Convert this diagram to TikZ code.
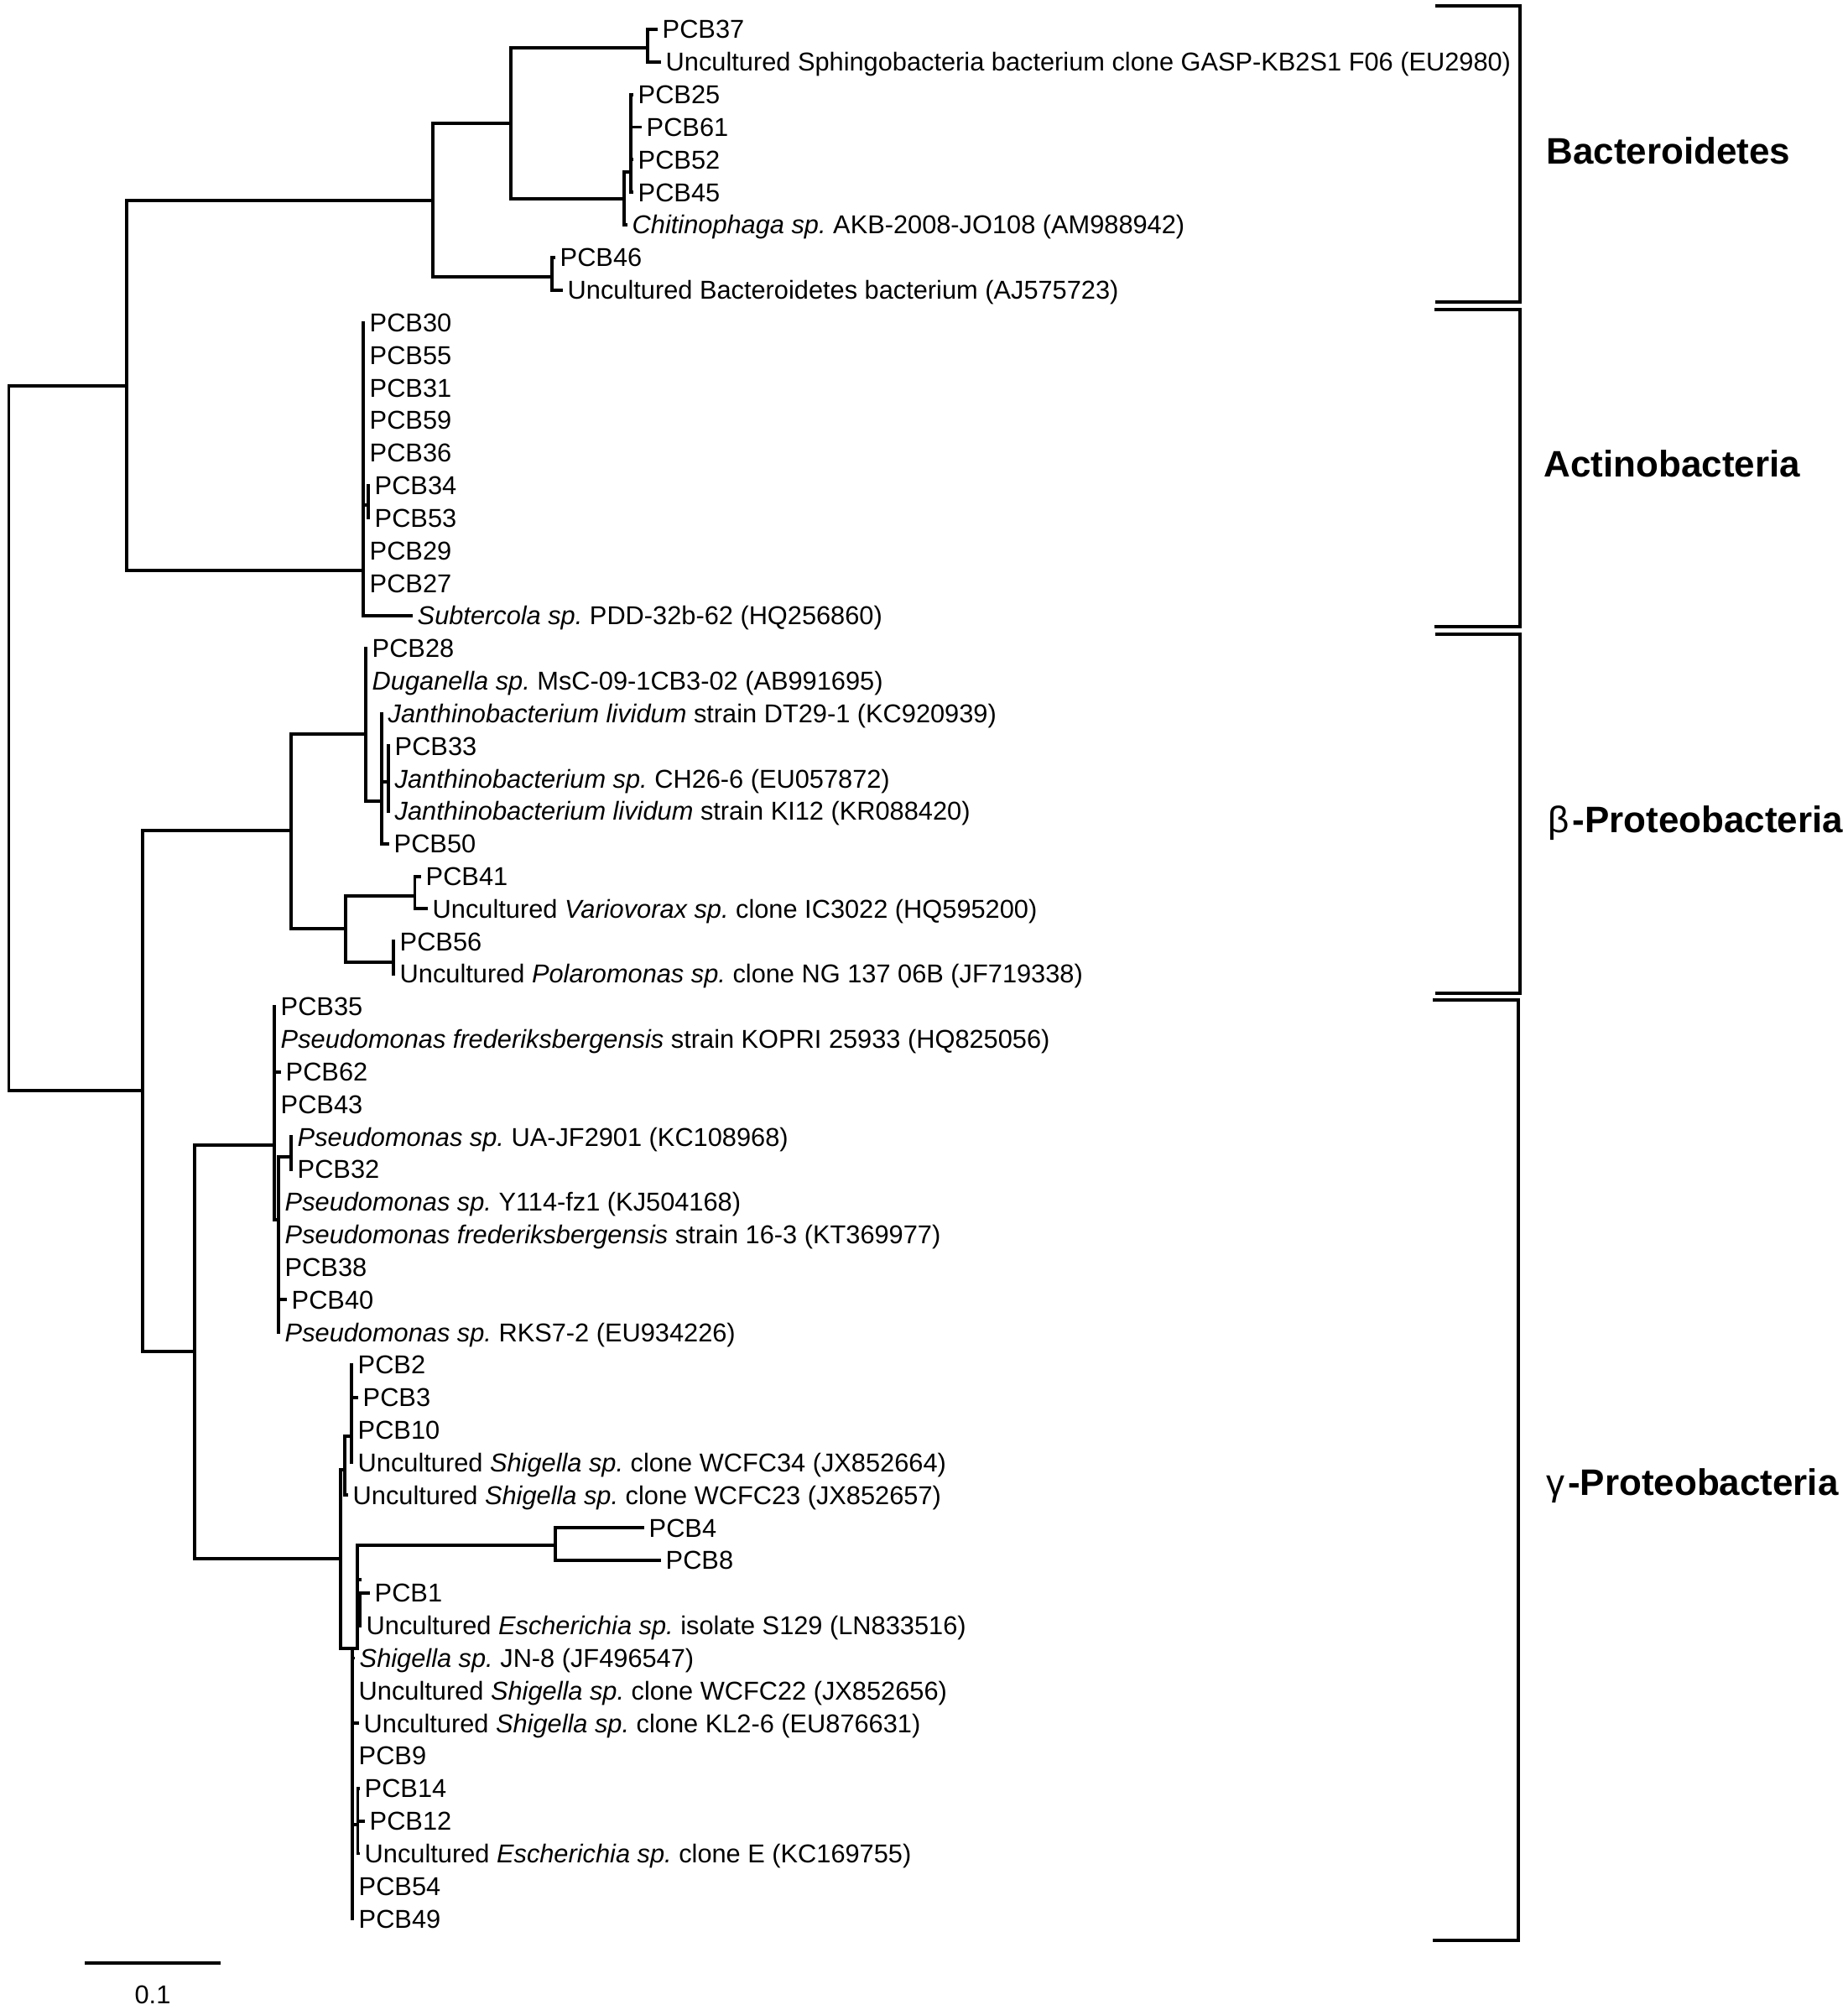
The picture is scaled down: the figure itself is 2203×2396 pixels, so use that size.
\documentclass[tikz,border=0pt]{standalone}
\usepackage{fontspec}
\setmainfont{Liberation Sans}
\usetikzlibrary{calc}
\frenchspacing
\newcommand{\leaffont}{\fontsize{8.75}{10.5}\selectfont}
\newcommand{\cladefont}{\fontsize{12.5}{15}\selectfont\bfseries}

\begin{document}
\begin{tikzpicture}[x=0.01cm, y=-0.01cm,
  branch/.style={line width=1.1pt, line cap=rect},
  bracket/.style={line width=1pt},
  leaf/.style={anchor=base west, inner xsep=2pt, inner ysep=0pt, yshift=-3.1pt, font=\leaffont},
  clade/.style={anchor=base west, inner sep=0pt, yshift=-4.5pt, font=\cladefont}
]
  \useasboundingbox (0,0) rectangle (2203,2396);

  % leaves: row / tip x / label
  \foreach \i/\tx/\lab in {
    1/782/{PCB37},
    2/786/{Uncultured Sphingobacteria bacterium clone GASP-KB2S1 F06 (EU2980)},
    3/753/{PCB25}, 4/763/{PCB61}, 5/753/{PCB52}, 6/753/{PCB45},
    7/746/{\textit{Chitinophaga sp.} AKB-2008-JO108 (AM988942)},
    8/660/{PCB46},
    9/669/{Uncultured Bacteroidetes bacterium (AJ575723)},
    10/433/{PCB30}, 11/433/{PCB55}, 12/433/{PCB31}, 13/433/{PCB59}, 14/433/{PCB36},
    15/439/{PCB34}, 16/439/{PCB53}, 17/433/{PCB29}, 18/433/{PCB27},
    19/490/{\textit{Subtercola sp.} PDD-32b-62 (HQ256860)},
    20/436/{PCB28},
    21/436/{\textit{Duganella sp.} MsC-09-1CB3-02 (AB991695)},
    22/455/{\textit{Janthinobacterium lividum} strain DT29-1 (KC920939)},
    23/463/{PCB33},
    24/463/{\textit{Janthinobacterium sp.} CH26-6 (EU057872)},
    25/463/{\textit{Janthinobacterium lividum} strain KI12 (KR088420)},
    26/462/{PCB50},
    27/500/{PCB41},
    28/508/{Uncultured \textit{Variovorax sp.} clone IC3022 (HQ595200)},
    29/469/{PCB56},
    30/469/{Uncultured \textit{Polaromonas sp.} clone NG 137 06B (JF719338)},
    31/327/{PCB35},
    32/327/{\textit{Pseudomonas frederiksbergensis} strain KOPRI 25933 (HQ825056)},
    33/333/{PCB62}, 34/327/{PCB43},
    35/347/{\textit{Pseudomonas sp.} UA-JF2901 (KC108968)},
    36/347/{PCB32},
    37/332/{\textit{Pseudomonas sp.} Y114-fz1 (KJ504168)},
    38/332/{\textit{Pseudomonas frederiksbergensis} strain 16-3 (KT369977)},
    39/332/{PCB38}, 40/340/{PCB40},
    41/332/{\textit{Pseudomonas sp.} RKS7-2 (EU934226)},
    42/419/{PCB2}, 43/425/{PCB3}, 44/419/{PCB10},
    45/419/{Uncultured \textit{Shigella sp.} clone WCFC34 (JX852664)},
    46/413/{Uncultured \textit{Shigella sp.} clone WCFC23 (JX852657)},
    47/766/{PCB4}, 48/786/{PCB8}, 49/439/{PCB1},
    50/429/{Uncultured \textit{Escherichia sp.} isolate S129 (LN833516)},
    51/421/{\textit{Shigella sp.} JN-8 (JF496547)},
    52/420/{Uncultured \textit{Shigella sp.} clone WCFC22 (JX852656)},
    53/426/{Uncultured \textit{Shigella sp.} clone KL2-6 (EU876631)},
    54/420/{PCB9}, 55/427/{PCB14}, 56/433/{PCB12},
    57/427/{Uncultured \textit{Escherichia sp.} clone E (KC169755)},
    58/420/{PCB54}, 59/420/{PCB49}} {
    \pgfmathsetmacro\yy{35+(\i-1)*38.83}
    \coordinate (t\i) at (\tx,\yy);
    \node[leaf] (l\i) at (t\i) {\lab};
  }

  % internal nodes (x of the split, y where the parent joins)
  \coordinate (nRoot) at (10.5,880);
  \coordinate (nA) at (151,460);
  \coordinate (nB) at (516,239);
  \coordinate (nB1) at (609,147);
  \coordinate (n37) at (772,57);
  \coordinate (nG) at (744,237);
  \coordinate (nS) at (752,205);
  \coordinate (n46) at (658,330);
  \coordinate (nAc) at (433,680);
  \coordinate (nAc2) at (439,602);
  \coordinate (nP) at (170,1300);
  \coordinate (nBe) at (347,990);
  \coordinate (nBu) at (436,875);
  \coordinate (nJ) at (455,955);
  \coordinate (nK) at (463,932);
  \coordinate (nBl) at (412,1107);
  \coordinate (n41) at (494.5,1068);
  \coordinate (n56) at (469,1147);
  \coordinate (nGa) at (232,1611);
  \coordinate (nPs) at (327,1365);
  \coordinate (nQ) at (332,1454);
  \coordinate (nR) at (347,1379);
  \coordinate (nEs) at (406,1858);
  \coordinate (nU0) at (411,1752);
  \coordinate (nU1) at (419,1712);
  \coordinate (nN) at (420,1965);
  \coordinate (nM) at (426,1965);
  \coordinate (nW) at (429,1883);
  \coordinate (n48) at (662,1842);
  \coordinate (nT) at (426.5,2175);

  % branches
  \draw[branch] (nRoot |- nA) -- (nRoot |- nP) foreach \c in {nA,nP} {(nRoot |- \c) -- (\c)};
  \draw[branch] (nA |- nB) -- (nA |- nAc) foreach \c in {nB,nAc} {(nA |- \c) -- (\c)};
  \draw[branch] (nB |- nB1) -- (nB |- n46) foreach \c in {nB1,n46} {(nB |- \c) -- (\c)};
  \draw[branch] (nB1 |- n37) -- (nB1 |- nG) foreach \c in {n37,nG} {(nB1 |- \c) -- (\c)};
  \draw[branch] (n37 |- t1) -- (n37 |- t2) foreach \c in {t1,t2} {(n37 |- \c) -- (\c)};
  \draw[branch] (nG |- nS) -- (nG |- t7) foreach \c in {nS,t7} {(nG |- \c) -- (\c)};
  \draw[branch] (nS |- t3) -- (nS |- t6) foreach \c in {t3,t4,t5,t6} {(nS |- \c) -- (\c)};
  \draw[branch] (n46 |- t8) -- (n46 |- t9) foreach \c in {t8,t9} {(n46 |- \c) -- (\c)};
  \draw[branch] (nAc |- t10) -- (nAc |- t19) foreach \c in {t10,t11,t12,t13,t14,nAc2,t17,t18,t19} {(nAc |- \c) -- (\c)};
  \draw[branch] (nAc2 |- t15) -- (nAc2 |- t16) foreach \c in {t15,t16} {(nAc2 |- \c) -- (\c)};
  \draw[branch] (nP |- nBe) -- (nP |- nGa) foreach \c in {nBe,nGa} {(nP |- \c) -- (\c)};
  \draw[branch] (nBe |- nBu) -- (nBe |- nBl) foreach \c in {nBu,nBl} {(nBe |- \c) -- (\c)};
  \draw[branch] (nBu |- t20) -- (nBu |- nJ) foreach \c in {t20,t21,nJ} {(nBu |- \c) -- (\c)};
  \draw[branch] (nJ |- t22) -- (nJ |- t26) foreach \c in {t22,nK,t26} {(nJ |- \c) -- (\c)};
  \draw[branch] (nK |- t23) -- (nK |- t25) foreach \c in {t23,t24,t25} {(nK |- \c) -- (\c)};
  \draw[branch] (nBl |- n41) -- (nBl |- n56) foreach \c in {n41,n56} {(nBl |- \c) -- (\c)};
  \draw[branch] (n41 |- t27) -- (n41 |- t28) foreach \c in {t27,t28} {(n41 |- \c) -- (\c)};
  \draw[branch] (n56 |- t29) -- (n56 |- t30) foreach \c in {t29,t30} {(n56 |- \c) -- (\c)};
  \draw[branch] (nGa |- nPs) -- (nGa |- nEs) foreach \c in {nPs,nEs} {(nGa |- \c) -- (\c)};
  \draw[branch] (nPs |- t31) -- (nPs |- nQ) foreach \c in {t31,t32,t33,t34,nQ} {(nPs |- \c) -- (\c)};
  \draw[branch] (nQ |- nR) -- (nQ |- t41) foreach \c in {nR,t37,t38,t39,t40,t41} {(nQ |- \c) -- (\c)};
  \draw[branch] (nR |- t35) -- (nR |- t36) foreach \c in {t35,t36} {(nR |- \c) -- (\c)};
  \draw[branch] (nEs |- nU0) -- (nEs |- nN) foreach \c in {nU0,nN} {(nEs |- \c) -- (\c)};
  \draw[branch] (nU0 |- nU1) -- (nU0 |- t46) foreach \c in {nU1,t46} {(nU0 |- \c) -- (\c)};
  \draw[branch] (nU1 |- t42) -- (nU1 |- t45) foreach \c in {t42,t43,t44,t45} {(nU1 |- \c) -- (\c)};
  \draw[branch] (nN |- nM) -- (nN |- t59) foreach \c in {nM,t51,t52,t53,t54,nT,t58,t59} {(nN |- \c) -- (\c)};
  \draw[branch] (nM |- n48) -- (nM) foreach \c in {n48,nW} {(nM |- \c) -- (\c)};
  \draw[branch] (nW |- t49) -- (nW |- t50) foreach \c in {t49,t50} {(nW |- \c) -- (\c)};
  \draw[branch] (n48 |- t47) -- (n48 |- t48) foreach \c in {t47,t48} {(n48 |- \c) -- (\c)};
  \draw[branch] (nT |- t55) -- (nT |- t57) foreach \c in {t55,t56,t57} {(nT |- \c) -- (\c)};

  % groups
  \draw[bracket] (1711,7) -- (1812,7) -- (1812,360) -- (1711,360);
  \draw[bracket] (1710,369) -- (1812,369) -- (1812,747) -- (1710,747);
  \draw[bracket] (1711,756) -- (1812,756) -- (1812,1184) -- (1711,1184);
  \draw[bracket] (1708,1192) -- (1810,1192) -- (1810,2313) -- (1708,2313);
  \node[clade] (bact) at (1843,180) {Bacteroidetes};
  \node[clade] (actino) at (1840,553) {Actinobacteria};
  \node[clade] (beta) at (1845,977) {{\mdseries β}\kern1pt-Proteobacteria};
  \node[clade] (gamma) at (1843,1767) {{\mdseries γ}\kern1pt-Proteobacteria};

  % scale bar
  \coordinate (sbL) at (101,2340);
  \coordinate (sbR) at (263,2340);
  \draw[line width=1.2pt] (sbL) -- (sbR);
  \node[font=\leaffont, inner sep=0pt] (sbLab) at (182,2378) {0.1};
\end{tikzpicture}
\end{document}
